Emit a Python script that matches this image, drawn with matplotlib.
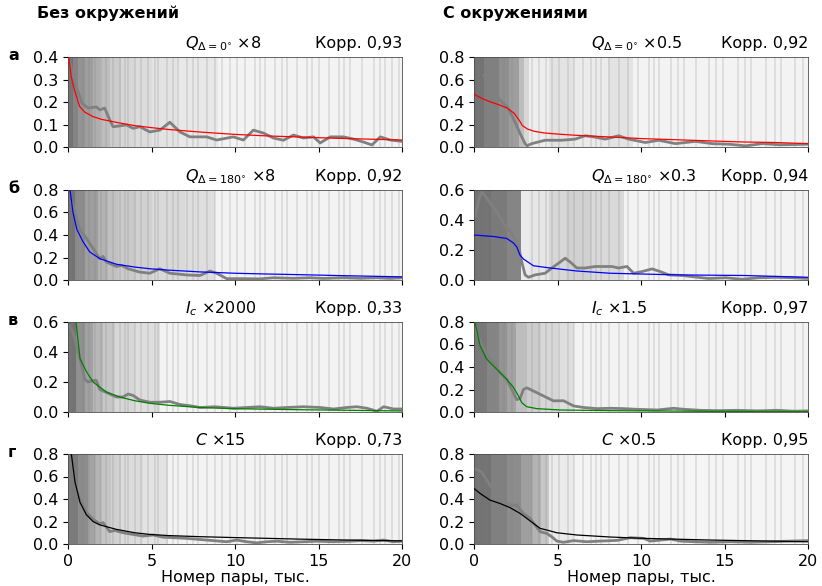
import numpy as np
import matplotlib
matplotlib.use("Agg")
import matplotlib.pyplot as plt
from matplotlib.transforms import offset_copy

plt.rcParams['font.family'] = ['DejaVu Sans']
plt.rcParams['font.size'] = 11.5

# ---- row а : Q (delta = 0) ----
a_l_obs_x = [0.04, 0.3, 0.84, 1.2, 1.7, 1.9, 2.2, 2.5, 2.7, 3.5, 3.9, 4.3, 4.9, 5.5, 6.1, 6.7, 7.3, 8.3, 8.9, 9.9,
             10.5, 11.1, 11.7, 12.3, 12.9, 13.5, 14.1, 14.7, 15.1, 15.7, 16.5, 17.1, 17.7, 18.2, 18.7, 19.3, 20.0]
a_l_obs_y = [0.40, 0.31, 0.195, 0.173, 0.178, 0.165, 0.173, 0.12, 0.09, 0.098, 0.083, 0.09, 0.067, 0.075, 0.11, 0.067,
             0.045, 0.045, 0.031, 0.045, 0.031, 0.075, 0.062, 0.04, 0.03, 0.053, 0.04, 0.045, 0.018, 0.045, 0.045,
             0.035, 0.022, 0.009, 0.045, 0.031, 0.025]
a_l_fit_x = [0.05, 0.2, 0.4, 0.7, 1.0, 1.5, 2, 3, 4, 5, 6, 8, 10, 12, 14, 16, 18, 20]
a_l_fit_y = [0.40, 0.31, 0.25, 0.18, 0.155, 0.135, 0.123, 0.108, 0.095, 0.086, 0.078, 0.066, 0.056, 0.049, 0.044,
             0.039, 0.035, 0.031]
a_l_bg_x = [0, 0.3, 0.6, 1.0, 1.5, 1.9, 2.5, 3.2, 4.0, 5.0, 6.5, 9.0, 20]
a_l_bg_g = [0.45, 0.52, 0.58, 0.62, 0.68, 0.74, 0.8, 0.84, 0.86, 0.89, 0.91, 0.95]

a_r_obs_x = [0.6, 1.06, 1.56, 2.06, 2.46, 2.76, 3.06, 3.16, 3.46, 4.26, 5.26, 6.06, 6.66, 7.16, 7.86, 8.66, 9.26,
             10.26, 11.06, 12.06, 13.26, 14.26, 15.26, 16.26, 17.26, 18.26, 19.26, 20.0]
a_r_obs_y = [0.64, 0.506, 0.42, 0.34, 0.22, 0.12, 0.03, 0.01, 0.03, 0.06, 0.06, 0.07, 0.1, 0.09, 0.07, 0.1, 0.07,
             0.04, 0.06, 0.03, 0.05, 0.03, 0.025, 0.01, 0.03, 0.02, 0.022, 0.025]
a_r_fit_x = [0, 0.5, 1, 1.5, 2, 2.4, 2.7, 2.9, 3.2, 3.6, 4.2, 5, 6, 8, 10, 12, 14, 16, 18, 20]
a_r_fit_y = [0.47, 0.43, 0.40, 0.375, 0.345, 0.30, 0.24, 0.19, 0.16, 0.14, 0.125, 0.115, 0.105, 0.09, 0.075,
             0.065, 0.055, 0.045, 0.04, 0.03]
a_r_bg_x = [0, 0.6, 1.5, 2.1, 2.7, 3.0, 3.3, 4.5, 6.0, 8.0, 9.5, 20]
a_r_bg_g = [0.45, 0.5, 0.56, 0.62, 0.74, 0.84, 0.93, 0.89, 0.92, 0.89, 0.95]

# ---- row б : Q (delta = 180) ----
b_l_obs_x = [0.24, 0.7, 1.1, 1.5, 1.9, 2.1, 2.3, 2.9, 3.2, 3.6, 4.3, 4.9, 5.5, 6.1, 7.1, 7.9, 8.5, 8.9, 9.5, 10.3,
             11.5, 12.3, 13.5, 14.5, 15.3, 16.5, 17.5, 18.5, 19.3, 20.0]
b_l_obs_y = [0.69, 0.45, 0.37, 0.28, 0.19, 0.21, 0.16, 0.12, 0.13, 0.1, 0.07, 0.06, 0.1, 0.06, 0.045, 0.04, 0.08,
             0.06, 0.012, 0.012, 0.01, 0.02, 0.015, 0.02, 0.014, 0.02, 0.015, 0.02, 0.014, 0.02]
b_l_fit_x = [0.12, 0.3, 0.53, 0.9, 1.3, 1.9, 2.9, 4, 4.9, 6, 7.9, 10, 12, 14, 16, 18, 20]
b_l_fit_y = [0.8, 0.6, 0.45, 0.34, 0.25, 0.19, 0.14, 0.115, 0.1, 0.088, 0.072, 0.06, 0.053, 0.047, 0.04, 0.034,
             0.028]
b_l_bg_x = [0, 0.4, 1.0, 1.8, 2.4, 3.0, 4.0, 5.0, 7.0, 8.8, 20]
b_l_bg_g = [0.45, 0.55, 0.62, 0.7, 0.75, 0.79, 0.82, 0.85, 0.87, 0.95]

b_r_obs_x = [0.06, 0.26, 0.46, 0.66, 1.06, 1.46, 1.86, 2.16, 2.36, 2.66, 2.86, 3.06, 3.26, 3.66, 4.26, 4.66, 5.16,
             5.46, 5.76, 6.16, 6.66, 7.26, 8.26, 8.66, 9.16, 9.56, 10.06, 10.66, 11.16, 11.66, 12.46, 13.26, 14.06,
             15.06, 16.06, 17.06, 18.06, 19.06, 20.0]
b_r_obs_y = [0.425, 0.525, 0.59, 0.56, 0.5, 0.44, 0.36, 0.325, 0.29, 0.23, 0.12, 0.034, 0.018, 0.034, 0.045, 0.08,
             0.12, 0.145, 0.12, 0.08, 0.08, 0.09, 0.09, 0.08, 0.09, 0.045, 0.056, 0.074, 0.056, 0.034, 0.03, 0.02,
             0.01, 0.015, 0.005, 0.015, 0.018, 0.015, 0.01]
b_r_fit_x = [0, 1.16, 1.96, 2.36, 2.56, 2.76, 2.96, 3.56, 4.56, 6.16, 8.16, 12.2, 16.2, 20]
b_r_fit_y = [0.30, 0.29, 0.277, 0.247, 0.22, 0.165, 0.14, 0.095, 0.08, 0.06, 0.045, 0.034, 0.03, 0.018]
b_r_bg_x = [0, 1.0, 2.0, 2.8, 3.3, 4.5, 5.5, 7.0, 9.0, 20]
b_r_bg_g = [0.45, 0.48, 0.52, 0.92, 0.9, 0.84, 0.82, 0.85, 0.95]

# ---- row в : I_c ----
c_l_obs_x = [0.12, 0.3, 0.72, 1.0, 1.2, 1.5, 1.7, 1.9, 2.3, 2.9, 3.3, 3.6, 3.9, 4.3, 4.9, 5.5, 6.1, 6.7, 7.4,
             7.9, 8.8, 9.9, 10.7, 11.5, 12.3, 13.1, 14.1, 15.1, 15.9, 16.7, 17.3, 17.9, 18.5, 18.9, 19.5, 20.0]
c_l_obs_y = [0.57, 0.53, 0.355, 0.22, 0.2, 0.21, 0.21, 0.15, 0.13, 0.1, 0.1, 0.12, 0.11, 0.08, 0.065, 0.065,
             0.07, 0.05, 0.04, 0.03, 0.035, 0.025, 0.03, 0.035, 0.025, 0.03, 0.035, 0.03, 0.02, 0.03, 0.035, 0.025,
             0.005, 0.035, 0.02, 0.02]
c_l_fit_x = [0.48, 0.72, 1.1, 1.5, 2.3, 3.1, 4, 4.9, 6, 7.9, 10, 14, 17, 20]
c_l_fit_y = [0.6, 0.355, 0.27, 0.2, 0.133, 0.1, 0.075, 0.058, 0.045, 0.03, 0.022, 0.015, 0.011, 0.007]
c_l_bg_x = [0, 0.5, 1.0, 1.5, 2.1, 2.8, 4.0, 5.5, 20]
c_l_bg_g = [0.45, 0.57, 0.63, 0.72, 0.78, 0.84, 0.87, 0.95]

c_r_obs_x = [0.06, 0.36, 0.76, 1.16, 1.56, 1.96, 2.26, 2.56, 2.76, 2.96, 3.16, 3.76, 4.36, 4.76, 5.36, 5.96, 6.56,
             7.36, 8.16, 8.96, 9.76, 10.96, 11.96, 12.56, 13.56, 14.56, 15.76, 16.96, 18.16, 19.16, 20.0]
c_r_obs_y = [0.74, 0.635, 0.515, 0.44, 0.35, 0.29, 0.2, 0.11, 0.12, 0.2, 0.215, 0.172, 0.128, 0.099, 0.1, 0.054,
             0.04, 0.03, 0.033, 0.03, 0.024, 0.018, 0.033, 0.024, 0.015, 0.012, 0.015, 0.01, 0.015, 0.007, 0.01]
c_r_fit_x = [0.06, 0.36, 0.76, 1.36, 1.96, 2.36, 2.66, 2.86, 3.16, 3.76, 5.16, 8.16, 14.2, 20]
c_r_fit_y = [0.8, 0.59, 0.47, 0.38, 0.29, 0.22, 0.143, 0.083, 0.047, 0.03, 0.018, 0.012, 0.006, 0.004]
c_r_bg_x = [0, 0.8, 1.5, 2.0, 2.5, 3.2, 4.0, 5.0, 6.0, 20]
c_r_bg_g = [0.47, 0.52, 0.58, 0.64, 0.74, 0.8, 0.84, 0.87, 0.95]

# ---- row г : C ----
d_l_obs_x = [0.2, 0.5, 0.8, 1.1, 1.5, 1.9, 2.1, 2.3, 2.5, 2.8, 3.3, 3.9, 4.5, 5.1, 5.7, 6.5, 7.1, 7.9, 8.7, 9.5,
             10.1, 10.7, 11.3, 11.9, 12.5, 13.3, 14.1, 14.9, 15.9, 16.9, 17.5, 18.3, 18.9, 19.5, 20.0]
d_l_obs_y = [0.73, 0.49, 0.37, 0.28, 0.22, 0.18, 0.19, 0.15, 0.11, 0.12, 0.1, 0.085, 0.07, 0.08, 0.06, 0.055,
             0.05, 0.04, 0.03, 0.02, 0.035, 0.02, 0.01, 0.02, 0.025, 0.015, 0.02, 0.025, 0.02, 0.025, 0.03, 0.025,
             0.035, 0.02, 0.025]
d_l_fit_x = [0.2, 0.42, 0.72, 1.1, 1.5, 1.9, 2.9, 4, 4.9, 6, 7.9, 10, 12, 14, 16, 18, 20]
d_l_fit_y = [0.8, 0.55, 0.37, 0.26, 0.2, 0.17, 0.13, 0.1, 0.085, 0.075, 0.065, 0.057, 0.05, 0.043, 0.037, 0.032,
             0.028]
d_l_bg_x = [0, 0.6, 1.2, 1.6, 2.0, 2.6, 3.2, 4.5, 6.0, 20]
d_l_bg_g = [0.48, 0.55, 0.64, 0.7, 0.77, 0.82, 0.86, 0.89, 0.95]

d_r_obs_x = [0.06, 0.46, 0.96, 1.36, 1.76, 2.16, 2.56, 2.96, 3.36, 3.66, 3.96, 4.36, 4.66, 4.96, 5.36, 5.96, 6.76,
             7.56, 8.56, 9.36, 10.16, 10.56, 11.16, 11.76, 12.36, 13.16, 14.16, 15.36, 16.56, 17.76, 18.96, 20.0]
d_r_obs_y = [0.67, 0.64, 0.52, 0.45, 0.376, 0.346, 0.346, 0.272, 0.228, 0.168, 0.109, 0.094, 0.064, 0.026, 0.015,
             0.03, 0.02, 0.026, 0.032, 0.056, 0.05, 0.026, 0.035, 0.044, 0.026, 0.02, 0.015, 0.02, 0.015, 0.02,
             0.026, 0.03]
d_r_fit_x = [0.0, 0.36, 0.96, 1.56, 2.16, 2.76, 3.16, 3.56, 3.96, 4.36, 4.96, 6.16, 8.16, 10.2, 14.2, 20]
d_r_fit_y = [0.494, 0.45, 0.39, 0.36, 0.323, 0.272, 0.228, 0.183, 0.139, 0.124, 0.1, 0.08, 0.062, 0.05, 0.035,
             0.02]
d_r_bg_x = [0, 1.0, 2.0, 2.8, 3.5, 4.0, 4.5, 6.0, 20]
d_r_bg_g = [0.45, 0.5, 0.55, 0.62, 0.7, 0.78, 0.92, 0.96]

# individual pairs drawn as thin streaks on top of the shading
left_streaks = [0.15, 0.5, 0.9, 1.25, 1.6, 2.0, 2.3, 2.7, 3.1, 3.4, 3.6, 4.0, 4.4, 4.8, 5.2, 5.4, 5.9, 6.3, 6.6,
                7.1, 7.5, 7.8, 8.3, 8.8, 9.2, 9.7, 10.1, 10.6, 11.2, 11.5, 11.8, 12.4, 12.8, 13.1, 13.7, 14.3, 14.6,
                15.0, 15.6, 16.2, 16.5, 16.9, 17.6, 18.3, 18.7, 19.0, 19.4, 19.8]
right_streaks = [0.3, 0.7, 1.2, 1.8, 2.3, 3.5, 3.9, 4.3, 4.7, 5.1, 5.6, 6.0, 6.5, 7.0, 7.3, 7.6, 8.1, 8.7, 9.2,
                 9.8, 10.5, 10.8, 11.1, 11.8, 12.2, 12.6, 13.3, 14.1, 14.5, 14.9, 15.8, 16.2, 16.6, 17.5, 18.0,
                 18.4, 19.2, 19.7]

# labels
row_letters = ['а', 'б', 'в', 'г']
col_titles = ['Без окружений', 'С окружениями']
names = [r'$Q_{\Delta=0^{\circ}}$', r'$Q_{\Delta=180^{\circ}}$', r'$I_c$', r'$C$']
scales = [['×8', '×0.5'], ['×8', '×0.3'], ['×2000', '×1.5'], ['×15', '×0.5']]
corr = [['0,93', '0,92'], ['0,92', '0,94'], ['0,33', '0,97'], ['0,73', '0,95']]
ytops = [[0.4, 0.8], [0.8, 0.6], [0.6, 0.8], [0.8, 0.8]]
fit_colors = ['red', 'blue', 'green', 'black']

panels = [
    [(a_l_obs_x, a_l_obs_y, a_l_fit_x, a_l_fit_y, a_l_bg_x, a_l_bg_g),
     (a_r_obs_x, a_r_obs_y, a_r_fit_x, a_r_fit_y, a_r_bg_x, a_r_bg_g)],
    [(b_l_obs_x, b_l_obs_y, b_l_fit_x, b_l_fit_y, b_l_bg_x, b_l_bg_g),
     (b_r_obs_x, b_r_obs_y, b_r_fit_x, b_r_fit_y, b_r_bg_x, b_r_bg_g)],
    [(c_l_obs_x, c_l_obs_y, c_l_fit_x, c_l_fit_y, c_l_bg_x, c_l_bg_g),
     (c_r_obs_x, c_r_obs_y, c_r_fit_x, c_r_fit_y, c_r_bg_x, c_r_bg_g)],
    [(d_l_obs_x, d_l_obs_y, d_l_fit_x, d_l_fit_y, d_l_bg_x, d_l_bg_g),
     (d_r_obs_x, d_r_obs_y, d_r_fit_x, d_r_fit_y, d_r_bg_x, d_r_bg_g)],
]
streaks = [left_streaks, right_streaks]

W, H = 822, 586
fig = plt.figure(figsize=(W / 100, H / 100), dpi=100)

col_x0 = [68, 474]
row_top = [57, 190, 322, 454]
ax_w, ax_h = 334, 90

for r in range(4):
    for c in range(2):
        ax = fig.add_axes([col_x0[c] / W, 1 - (row_top[r] + ax_h) / H, ax_w / W, ax_h / H])
        ox, oy, fx, fy, bx, bg = panels[r][c]
        top = ytops[r][c]
        # shading of the background by pair density
        ax.pcolormesh(bx, [0, top], np.array([bg]), cmap='gray', vmin=0, vmax=1,
                      shading='flat', zorder=0, rasterized=True)
        ax.vlines(streaks[c], 0, top, color='0.5', alpha=0.2, lw=1.3, zorder=1)
        ax.plot(ox, oy, color='#808080', lw=2.0, zorder=2)
        ax.plot(fx, fy, color=fit_colors[r], lw=0.9, zorder=3)
        ax.set_xlim(0, 20)
        ax.set_ylim(0, top)
        ax.set_xticks([0, 5, 10, 15, 20])
        step = 0.1 if top == 0.4 else 0.2
        yt = np.arange(0, top + 1e-9, step)
        ax.set_yticks(yt)
        ax.set_yticklabels(['%.1f' % v for v in yt])
        for s in ax.spines.values():
            s.set_linewidth(0.6)
            s.set_color('0.3')
        if r < 3:
            ax.set_xticklabels([])
        else:
            ax.set_xlabel('Номер пары, тыс.', labelpad=1)
        ax.set_title('Корр. ' + corr[r][c], loc='right', pad=6.5, fontsize=11.5)
        tr = offset_copy(ax.transAxes, fig=fig, x=0, y=6.5, units='points')
        ax.text(0.35 if r < 3 else 0.38, 1.0, names[r] + ' ' + scales[r][c],
                transform=tr, ha='left', va='baseline')
        if c == 0:
            fig.text(8 / W, 1 - (row_top[r] + 3) / H, row_letters[r], fontweight='bold',
                     ha='left', va='baseline')

for c in range(2):
    fig.text([37, 443][c] / W, 1 - 18 / H, col_titles[c], fontweight='bold', ha='left', va='baseline')

fig.savefig('out.png', dpi=100)
